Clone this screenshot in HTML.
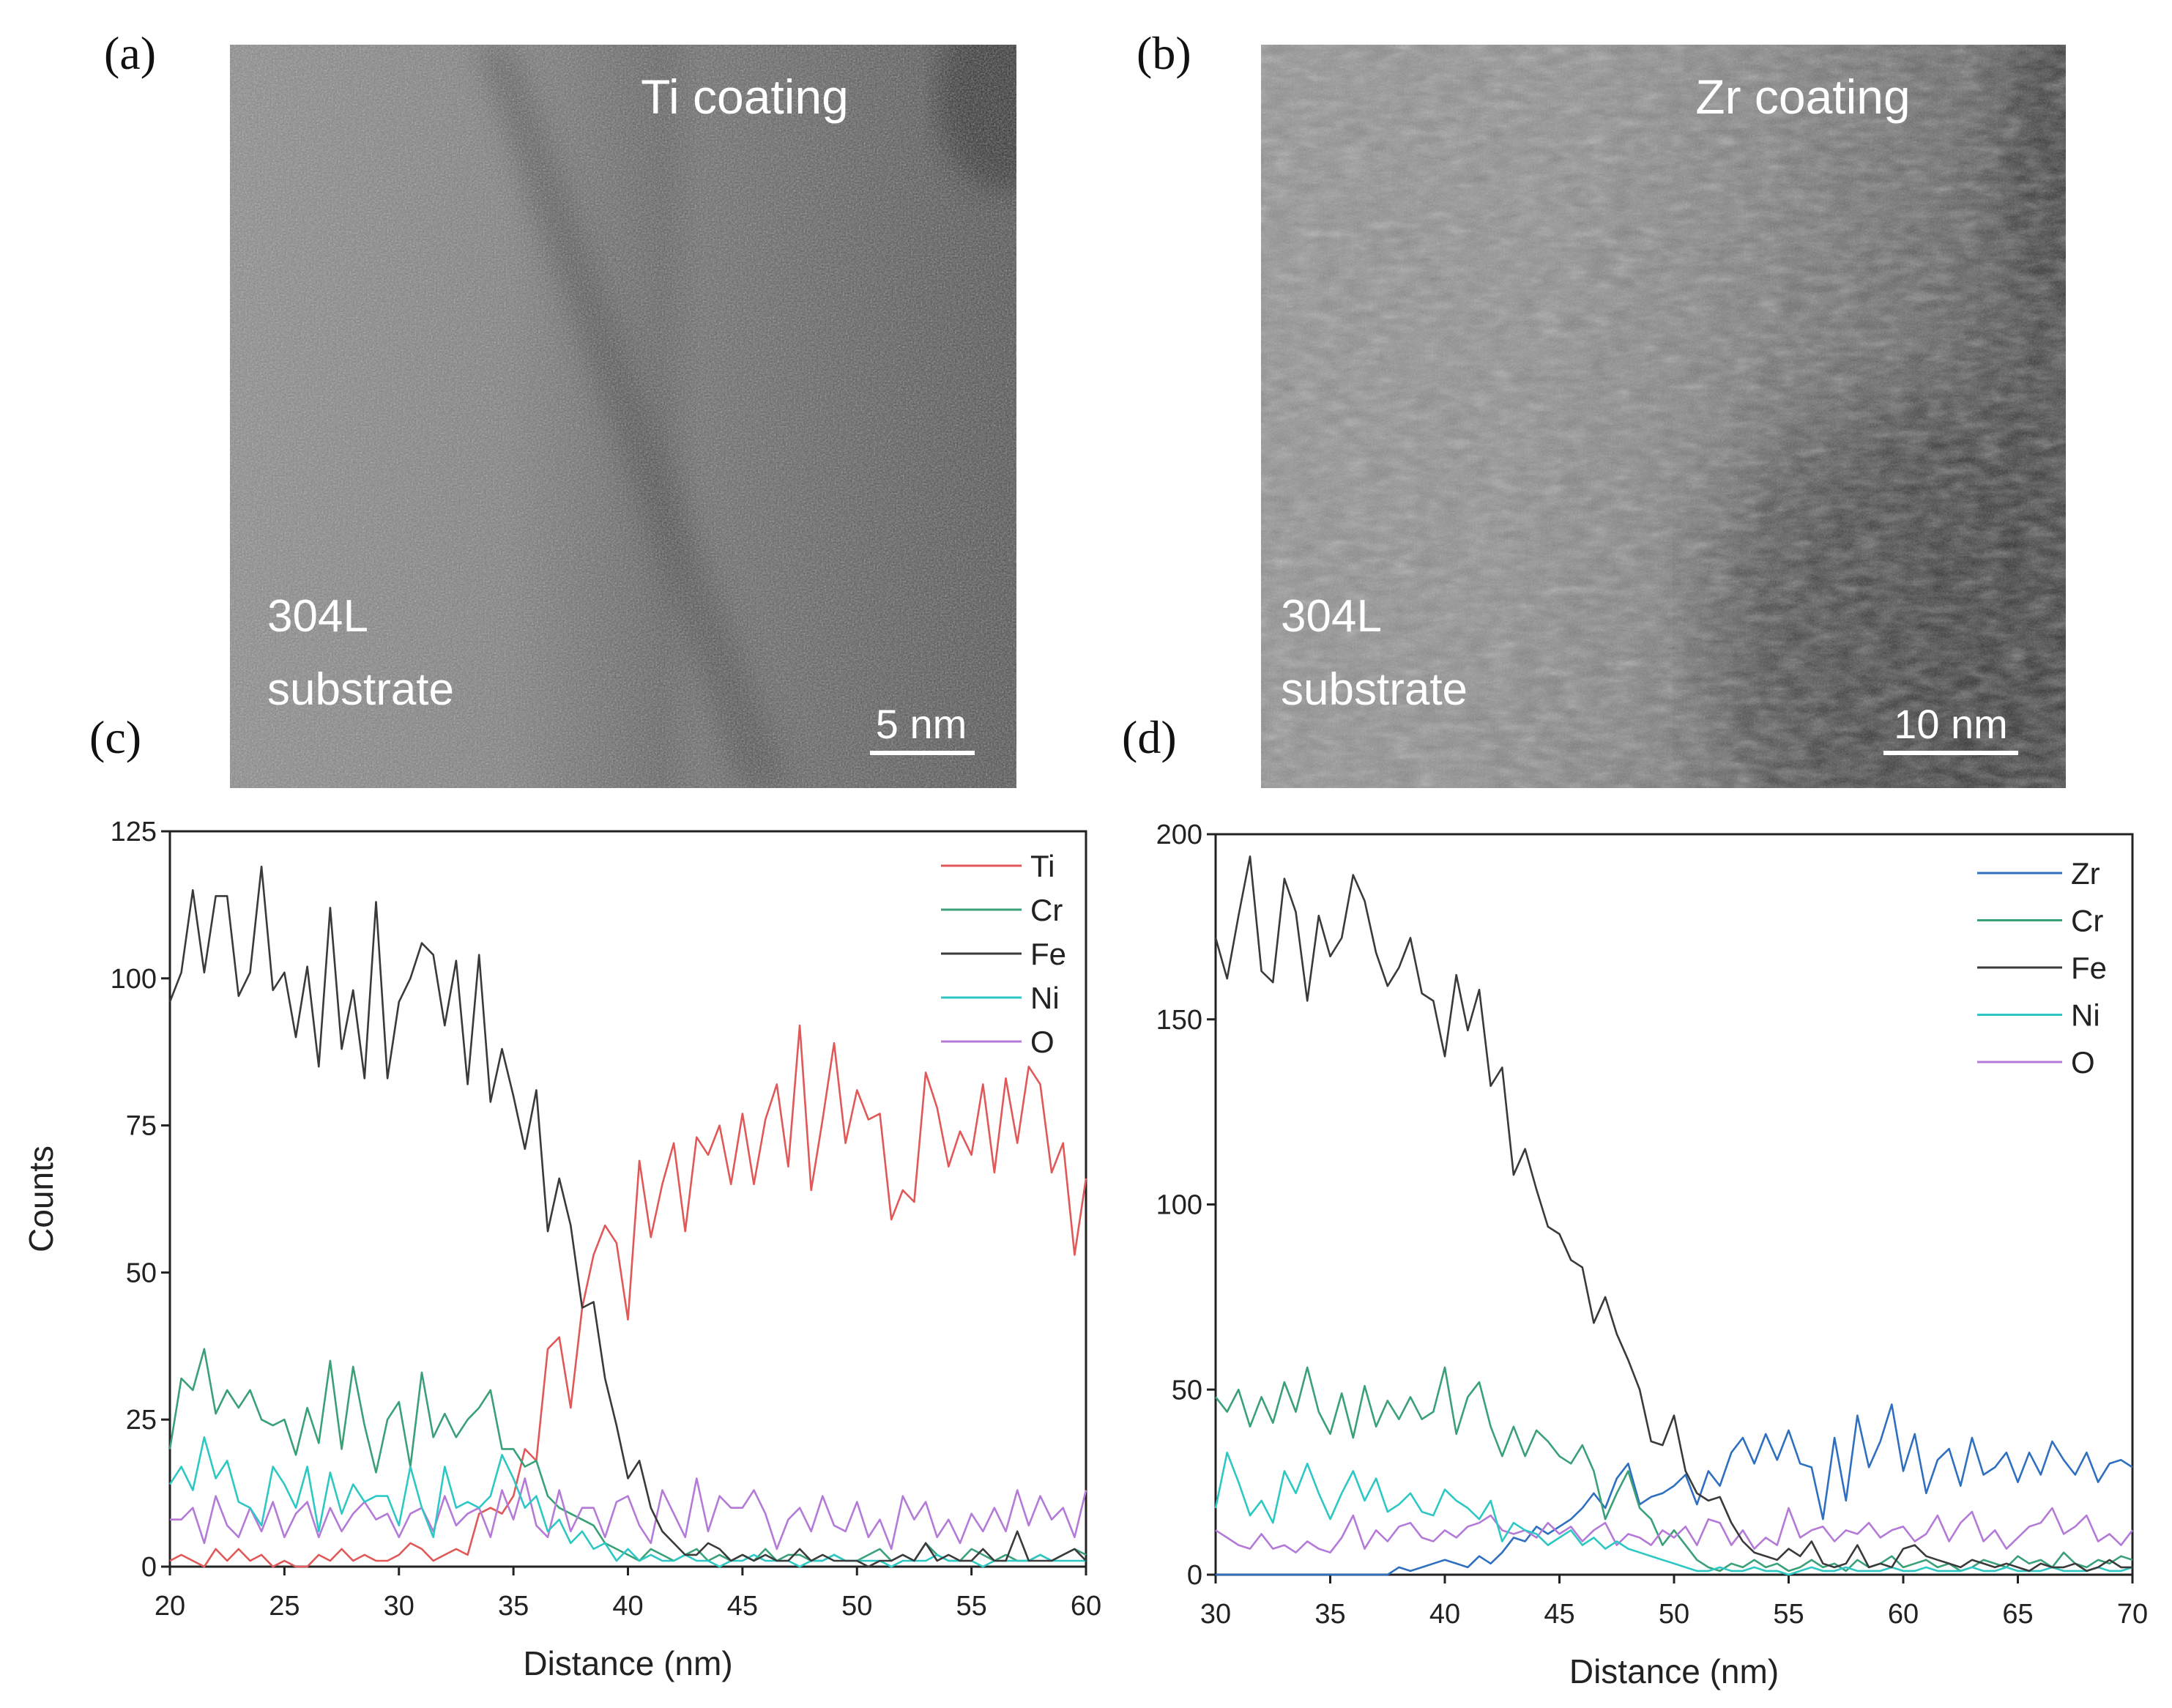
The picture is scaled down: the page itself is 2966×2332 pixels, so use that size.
<!DOCTYPE html>
<html><head><meta charset="utf-8">
<style>
html,body{margin:0;padding:0;background:#fff;}
body{width:2966px;height:2332px;position:relative;overflow:hidden;font-family:"Liberation Sans",sans-serif;}
.pl{position:absolute;font-family:"Liberation Serif",serif;font-size:64px;color:#111;}
</style></head>
<body>
<div class="pl" style="left:142px;top:36px">(a)</div>
<div class="pl" style="left:1552px;top:36px">(b)</div>
<div class="pl" style="left:122px;top:970px">(c)</div>
<div class="pl" style="left:1532px;top:970px">(d)</div>

<svg width="2966" height="2332" style="position:absolute;left:0;top:0">
<defs>
<filter id="nz" x="0" y="0" width="100%" height="100%">
<feTurbulence type="fractalNoise" baseFrequency="0.45" numOctaves="2" seed="3"/>
<feColorMatrix type="saturate" values="0"/>
<feComponentTransfer><feFuncA type="table" tableValues="0 0.6"/></feComponentTransfer>
</filter>
<filter id="nz2" x="0" y="0" width="100%" height="100%">
<feTurbulence type="fractalNoise" baseFrequency="0.03 0.08" numOctaves="3" seed="7"/>
<feColorMatrix type="saturate" values="0"/>
<feComponentTransfer><feFuncA type="table" tableValues="0 0.5"/></feComponentTransfer>
</filter>
<filter id="blur"><feGaussianBlur stdDeviation="60"/></filter>
<filter id="blur2"><feGaussianBlur stdDeviation="18"/></filter>
<clipPath id="cpa"><rect x="314" y="61" width="1074" height="1015"/></clipPath>
<clipPath id="cpb"><rect x="1722" y="61" width="1099" height="1015"/></clipPath>
<linearGradient id="ga" x1="0" y1="0" x2="1" y2="0">
<stop offset="0" stop-color="#8a8a8a"/><stop offset="0.35" stop-color="#7c7c7c"/><stop offset="0.55" stop-color="#5e5e5e"/><stop offset="0.6" stop-color="#686868"/><stop offset="1" stop-color="#4c4c4c"/>
</linearGradient>
<linearGradient id="gb" x1="0" y1="0" x2="1" y2="0.2">
<stop offset="0" stop-color="#8e8e8e"/><stop offset="0.4" stop-color="#8a8a8a"/><stop offset="0.6" stop-color="#7c7c7c"/><stop offset="0.85" stop-color="#5a5a5a"/><stop offset="1" stop-color="#383838"/>
</linearGradient>
</defs>
<g clip-path="url(#cpa)">
<rect x="314" y="61" width="1074" height="1015" fill="url(#ga)"/>
<path d="M650,61 L700,61 L1080,1076 L1010,1076 Z" fill="#333" opacity="0.4" filter="url(#blur2)"/>
<ellipse cx="1370" cy="130" rx="90" ry="130" fill="#222" opacity="0.7" filter="url(#blur2)"/>
<rect x="314" y="61" width="1074" height="1015" filter="url(#nz)"/>
</g>
<g>
<text x="1017" y="155" text-anchor="middle" font-size="66" fill="#fff">Ti coating</text>
<text x="365" y="862" font-size="62" fill="#fff">304L</text>
<text x="365" y="962" font-size="62" fill="#fff">substrate</text>
<text x="1258" y="1008" text-anchor="middle" font-size="56" fill="#fff">5 nm</text>
<rect x="1188" y="1025" width="143" height="6" fill="#fff"/>
</g>
<g clip-path="url(#cpb)">
<rect x="1722" y="61" width="1099" height="1015" fill="url(#gb)"/>
<ellipse cx="2620" cy="880" rx="280" ry="330" fill="#222" opacity="0.6" filter="url(#blur)"/>
<ellipse cx="2800" cy="200" rx="60" ry="200" fill="#222" opacity="0.6" filter="url(#blur2)"/>
<rect x="1722" y="61" width="1099" height="1015" filter="url(#nz2)"/>
<rect x="1722" y="61" width="1099" height="1015" filter="url(#nz)" opacity="0.5"/>
</g>
<g>
<text x="2462" y="155" text-anchor="middle" font-size="66" fill="#fff">Zr coating</text>
<text x="1749" y="862" font-size="62" fill="#fff">304L</text>
<text x="1749" y="962" font-size="62" fill="#fff">substrate</text>
<text x="2664" y="1008" text-anchor="middle" font-size="56" fill="#fff">10 nm</text>
<rect x="2572" y="1025" width="184" height="6" fill="#fff"/>
</g>
<g id="chartC"></g>
<g id="chartD"></g>
</svg>

<script>
// Chart (c) data
const cXRange = [20, 60];
const cYTicks = [0, 25, 50, 75, 100, 125];
const cXTicks = [20, 25, 30, 35, 40, 45, 50, 55, 60];
const cTi = [1,2,1,0,3,1,3,1,2,0,1,0,0,2,1,3,1,2,1,1,2,4,3,1,2,3,2,9,10,9,12,20,18,37,39,27,44,53,58,55,42,69,56,65,72,57,73,70,75,65,77,65,76,82,68,92,64,76,89,72,81,76,77,59,64,62,84,78,68,74,70,82,67,83,72,85,82,67,72,53,66];
const cCr = [20,32,30,37,26,30,27,30,25,24,25,19,27,21,35,20,34,24,16,25,28,17,33,22,26,22,25,27,30,20,20,17,18,12,10,9,8,7,4,3,2,1,3,2,1,2,3,1,2,1,2,1,3,1,2,2,1,1,2,1,1,2,3,1,2,1,4,2,1,1,3,2,1,2,1,1,2,1,2,3,2];
const cFe = [96,101,115,101,114,114,97,101,119,98,101,90,102,85,112,88,98,83,113,83,96,100,106,104,92,103,82,104,79,88,80,71,81,57,66,58,44,45,32,24,15,18,10,6,4,2,2,4,3,1,2,1,2,1,1,3,1,2,1,1,1,0,1,1,2,1,4,1,2,1,1,3,1,1,6,1,1,1,2,3,1];
const cNi = [14,17,13,22,15,18,11,10,7,17,14,10,17,6,16,9,14,11,12,12,7,17,10,5,17,10,11,10,12,19,15,10,12,6,8,4,6,3,4,1,3,1,2,1,1,2,1,1,0,1,1,2,1,1,1,0,1,1,2,1,1,1,1,0,1,1,1,2,1,1,1,0,1,1,1,1,2,1,1,1,1];
const cO = [8,8,10,4,12,7,5,10,6,11,5,9,11,5,10,6,9,11,8,9,5,9,10,6,12,7,9,10,5,13,8,15,7,5,13,6,10,10,5,11,12,7,4,13,9,5,15,6,12,10,10,13,9,3,8,10,6,12,7,6,11,5,8,3,12,8,11,5,8,4,9,6,10,6,13,7,12,8,10,5,13];
// Chart (d) data
const dXRange = [30, 70];
const dYTicks = [0, 50, 100, 150, 200];
const dXTicks = [30, 35, 40, 45, 50, 55, 60, 65, 70];
const dZr = [0,0,0,0,0,0,0,0,0,0,0,0,0,0,0,0,2,1,2,3,4,3,2,5,3,6,10,9,13,11,13,15,18,22,18,26,30,19,21,22,24,27,19,28,24,33,37,30,38,31,39,30,29,15,37,20,43,29,36,46,28,38,22,31,34,24,37,27,29,33,25,33,27,36,31,27,33,25,30,31,29];
const dCr = [48,44,50,40,48,41,52,44,56,44,38,49,37,51,40,47,42,48,42,44,56,38,48,52,40,32,40,32,39,36,32,30,35,28,15,22,28,18,15,8,12,8,4,2,1,3,2,4,2,3,1,2,4,2,3,1,4,2,3,5,2,3,4,2,3,1,2,4,3,2,5,3,4,2,6,3,2,4,3,5,4];
const dFe = [172,161,178,194,163,160,188,179,155,178,167,172,189,182,168,159,164,172,157,155,140,162,147,158,132,137,108,115,104,94,92,85,83,68,75,65,58,50,36,35,43,28,22,20,21,14,9,6,5,4,7,5,9,3,2,3,8,2,3,2,7,8,5,4,3,2,4,3,2,3,2,1,3,2,2,3,1,2,4,2,2];
const dNi = [18,33,25,16,20,14,28,22,30,22,15,22,28,20,26,17,19,22,17,16,23,20,18,15,20,9,14,12,11,8,10,12,8,10,7,9,7,6,5,4,3,2,1,1,2,1,1,2,1,1,0,1,2,1,1,2,1,1,1,2,1,1,2,1,1,1,2,1,1,2,1,1,1,2,1,1,1,2,1,1,2];
const dO = [12,10,8,7,11,7,8,6,9,7,6,10,16,7,12,9,13,14,10,9,12,10,13,14,16,12,11,12,10,14,11,13,9,12,14,8,11,10,8,12,10,13,8,15,14,8,12,7,10,8,18,10,12,13,9,12,11,14,10,12,13,9,11,16,9,14,17,9,12,7,10,13,14,18,11,13,16,9,11,8,12];
const cLegend = ['Ti','Cr','Fe','Ni','O'];
const dLegend = ['Zr','Cr','Fe','Ni','O'];

const NS = 'http://www.w3.org/2000/svg';
function mk(parent, tag, attrs, txt) {
  const e = document.createElementNS(NS, tag);
  for (const k in attrs) e.setAttribute(k, attrs[k]);
  if (txt !== undefined) e.textContent = txt;
  parent.appendChild(e);
  return e;
}
const COL = {Ti:'#e05858', Cr:'#3aa077', Fe:'#3a3a3a', Ni:'#2ec8c4', O:'#b47ad8', Zr:'#2f6fbf'};

function drawChart(gid, box, xr, yTicks, xTicks, series, names, legNames, leg, showYTitle) {
  const g = document.getElementById(gid);
  const ymax = yTicks[yTicks.length - 1];
  const sx = v => box.l + (v - xr[0]) / (xr[1] - xr[0]) * (box.r - box.l);
  const sy = v => box.b - v / ymax * (box.b - box.t);
  const frame = mk(g, 'rect', {x:box.l, y:box.t, width:box.r-box.l, height:box.b-box.t, fill:'none', stroke:'#222', 'stroke-width':3});
  
  
  yTicks.forEach(v => {
    mk(g, 'line', {x1:box.l-12, x2:box.l, y1:sy(v), y2:sy(v), stroke:'#222', 'stroke-width':3});
    const t = mk(g, 'text', {x:box.l-18, y:sy(v)+13, 'text-anchor':'end', 'font-size':38, fill:'#222'}, String(v));
    
    
  });
  xTicks.forEach(v => {
    mk(g, 'line', {x1:sx(v), x2:sx(v), y1:box.b, y2:box.b+12, stroke:'#222', 'stroke-width':3});
    const t = mk(g, 'text', {x:sx(v), y:box.b+66, 'text-anchor':'middle', 'font-size':38, fill:'#222'}, String(v));
    
    
  });
  const xt = mk(g, 'text', {x:(box.l+box.r)/2, y:box.b+148, 'text-anchor':'middle', 'font-size':46, fill:'#222'}, 'Distance (nm)');
  
  
  if (showYTitle) {
    const yt = mk(g, 'text', {x:0, y:0, transform:'translate(72,'+((box.t+box.b)/2)+') rotate(-90)', 'text-anchor':'middle', 'font-size':46, fill:'#222'}, 'Counts');
    
    
  }
  series.forEach((arr, si) => {
    const n = arr.length;
    const pts = arr.map((v, i) => sx(xr[0] + i * (xr[1]-xr[0]) / (n-1)).toFixed(1) + ',' + sy(v).toFixed(1)).join(' ');
    const pl = mk(g, 'polyline', {points:pts, fill:'none', stroke:COL[names[si]], 'stroke-width':2.6, 'stroke-linejoin':'round'});
    
    
  });
  legNames.forEach((nm, i) => {
    const y = leg.y + i * leg.dy;
    const ln = mk(g, 'line', {x1:leg.x1, x2:leg.x2, y1:y, y2:y, stroke:COL[nm], 'stroke-width':3});
    
    
    const t = mk(g, 'text', {x:leg.x2+12, y:y+15, 'font-size':42, fill:'#222'}, nm);
    
    
  });
}
drawChart('chartC', {l:232, r:1483, t:1135, b:2139}, cXRange, cYTicks, cXTicks,
  [cTi, cCr, cO, cNi, cFe], ['Ti','Cr','O','Ni','Fe'], cLegend, {x1:1285, x2:1395, y:1182, dy:60}, true);
drawChart('chartD', {l:1660, r:2912, t:1139, b:2150}, dXRange, dYTicks, dXTicks,
  [dZr, dCr, dO, dNi, dFe], ['Zr','Cr','O','Ni','Fe'], dLegend, {x1:2700, x2:2816, y:1192, dy:64.5}, false);
</script>
</body></html>
